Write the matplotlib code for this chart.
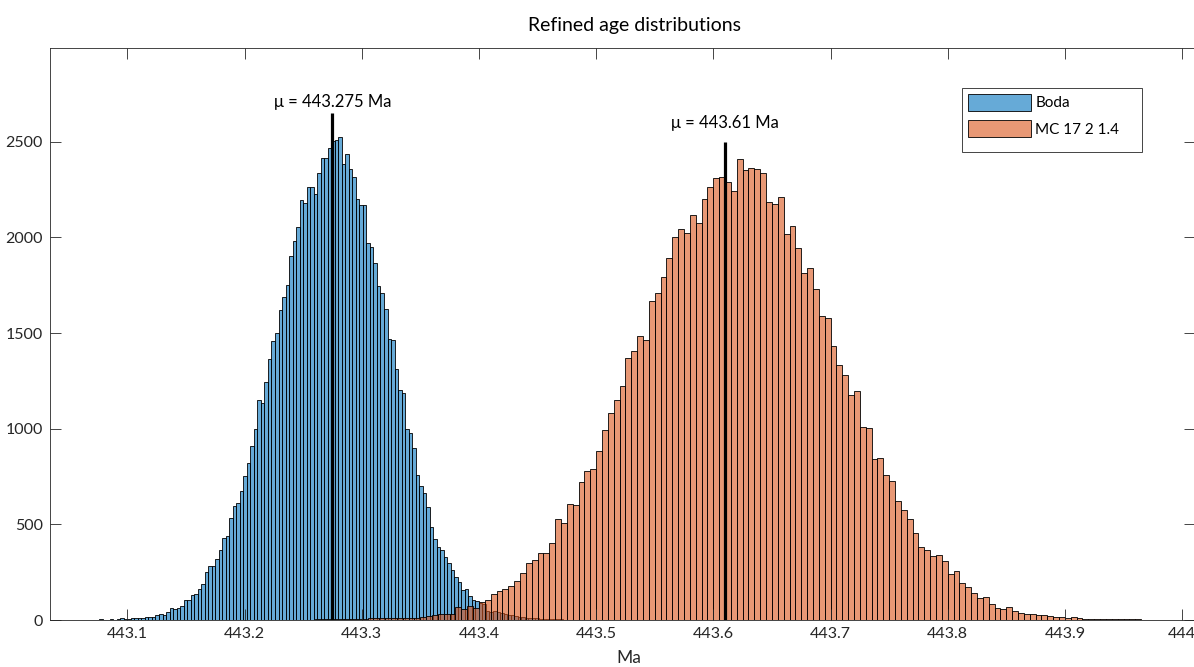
import numpy as np
import matplotlib
matplotlib.use("Agg")
import matplotlib.pyplot as plt
from matplotlib.patches import Rectangle

plt.rcParams['font.family'] = ['Lato', 'DejaVu Sans']

# histogram counts, read bin by bin
boda_start = 443.076
boda_width = 0.003
boda_counts = [
    3, 2, 2, 3, 2, 3, 8, 6, 5, 11, 8, 8, 10, 18, 18, 15, 28, 30, 25, 42,
    62, 55, 65, 72, 105, 105, 130, 136, 160, 190, 252, 280, 281, 321, 367, 428, 438, 533, 594, 611,
    676, 753, 821, 912, 998, 1151, 1136, 1246, 1364, 1460, 1502, 1618, 1691, 1752, 1902, 1981, 2053, 2194, 2179, 2261,
    2261, 2226, 2339, 2414, 2413, 2467, 2505, 2507, 2524, 2383, 2435, 2358, 2315, 2203, 2168, 2168, 1971, 1948, 1868, 1745,
    1707, 1628, 1471, 1466, 1314, 1204, 1186, 999, 977, 900, 758, 699, 664, 592, 486, 426, 384, 365, 330, 300,
    260, 225, 200, 157, 161, 126, 106, 98, 90, 82, 47, 42, 47, 42, 38, 33, 26, 24, 19, 16,
    16, 12, 10, 10, 9, 7, 7, 5, 5, 3, 3, 3,
]

mc_start = 443.245
mc_width = 0.005
mc_counts = [
    2, 2, 2, 3, 3, 3, 3, 4, 4, 5, 4, 6, 8, 9, 10, 12, 10, 8, 10, 12,
    12, 14, 20, 26, 29, 30, 31, 67, 60, 72, 61, 94, 103, 135, 149, 161, 178, 204, 248, 297,
    313, 348, 348, 405, 528, 508, 606, 601, 723, 777, 790, 882, 991, 1081, 1151, 1223, 1370, 1405, 1485, 1466,
    1670, 1707, 1794, 1894, 2004, 2044, 2021, 2117, 2077, 2199, 2266, 2310, 2315, 2289, 2243, 2409, 2350, 2365, 2357, 2336,
    2187, 2173, 2210, 2020, 2061, 1943, 1812, 1838, 1731, 1590, 1581, 1431, 1335, 1279, 1177, 1197, 1010, 1005, 840, 846,
    758, 729, 620, 577, 528, 454, 379, 365, 332, 341, 306, 243, 255, 191, 173, 143, 117, 122, 82, 65,
    59, 70, 47, 38, 33, 31, 28, 24, 21, 16, 16, 12, 17, 10, 7, 5, 5, 7, 7, 5,
    3, 3, 3, 3,
]

labels = ['Boda', 'MC 17 2 1.4']
means = [443.275, 443.61]
mean_tops = [2650, 2500]
mean_texts = ['\u03bc = 443.275 Ma', '\u03bc = 443.61 Ma']
text_y = [2708, 2598]

xticks = [443.1, 443.2, 443.3, 443.4, 443.5, 443.6, 443.7, 443.8, 443.9, 444]
xticklabels = ['443.1', '443.2', '443.3', '443.4', '443.5', '443.6', '443.7', '443.8', '443.9', '444']
yticks = [0, 500, 1000, 1500, 2000, 2500]

blue = (0.0, 0.447, 0.741, 0.6)
orange = (0.85, 0.325, 0.098, 0.6)
axcol = '#262626'

W, H = 1194, 667
fig = plt.figure(figsize=(W / 100, H / 100), dpi=100)
ax = fig.add_axes([50 / W, 47 / H, 1145 / W, 572 / H])

for start, width, counts, col, lab in [
    (boda_start, boda_width, boda_counts, blue, labels[0]),
    (mc_start, mc_width, mc_counts, orange, labels[1]),
]:
    left = start + width * np.arange(len(counts))
    ax.bar(left, counts, width=width, align='edge', color=col,
           edgecolor='black', linewidth=0.6, label=lab)

for m, top, txt, ty in zip(means, mean_tops, mean_texts, text_y):
    ax.plot([m, m], [0, top], color='black', linewidth=2.3, solid_capstyle='butt')
    ax.text(m, ty, txt, ha='center', va='center', fontsize=12, color='black')

ax.set_xlim(443.034, 444.011)
ax.set_ylim(0, 2990)
ax.set_xticks(xticks)
ax.set_xticklabels(xticklabels)
ax.set_yticks(yticks)
ax.tick_params(direction='in', length=8, width=0.6, color=axcol, labelcolor=axcol,
               labelsize=11.5, top=True, right=True, pad=5)
for sp in ax.spines.values():
    sp.set_color(axcol)
    sp.set_linewidth(0.6)

fig.text(634 / W, 1 - 25 / H, 'Refined age distributions', ha='center', va='center',
         fontsize=14, color='black')
fig.text(629 / W, 1 - 658 / H, 'Ma', ha='center', va='center', fontsize=12.5, color=axcol)

# legend entries without frame, box drawn separately (wider right margin)
leg = ax.legend(loc='upper left', bbox_to_anchor=(968 / W, 1 - 94 / H),
                bbox_transform=fig.transFigure, borderaxespad=0, borderpad=0,
                fontsize=11, handlelength=4.1, handleheight=1.3, labelspacing=0.62,
                handletextpad=0.3, frameon=False)
fig.patches.append(Rectangle((962 / W, 1 - 152 / H), 180 / W, 64 / H,
                             transform=fig.transFigure, facecolor='none',
                             edgecolor=axcol, linewidth=0.6, zorder=10))

fig.savefig('out.png', dpi=100)
